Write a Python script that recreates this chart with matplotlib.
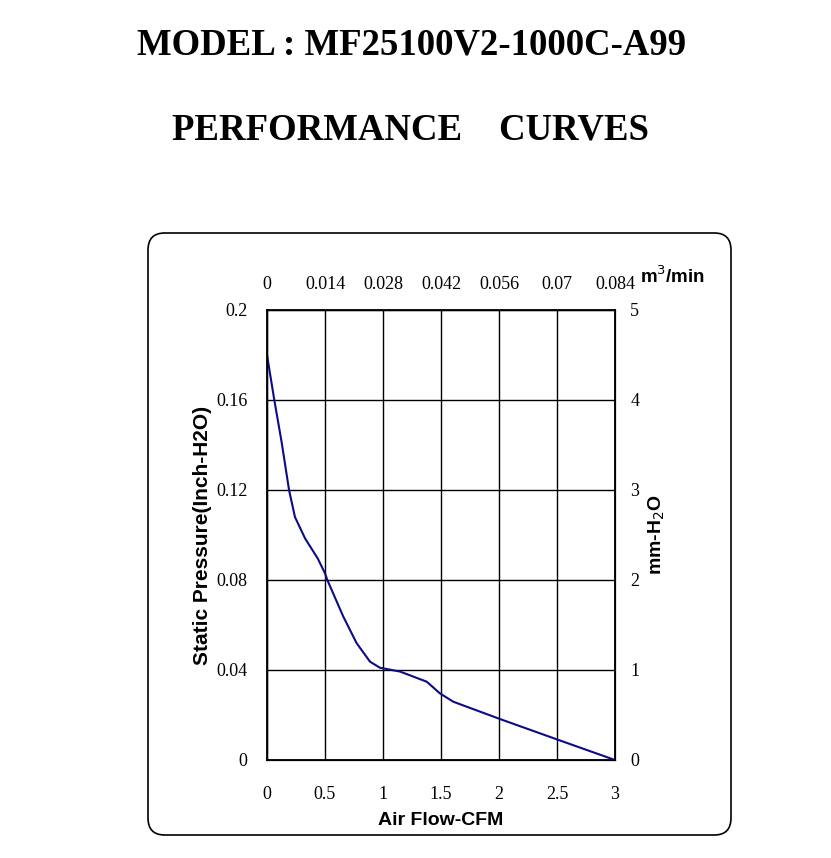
import matplotlib.pyplot as plt
from matplotlib.patches import FancyBboxPatch

# air flow (CFM) vs static pressure (inch H2O)
cfm = [0.0, 0.063, 0.127, 0.19, 0.241, 0.328, 0.437, 0.5, 0.52, 0.658, 0.773,
       0.888, 0.974, 1.147, 1.377, 1.491, 1.606, 2.009, 2.497, 3.0]
pressure = [0.18, 0.16, 0.141, 0.12, 0.108, 0.0985, 0.0896, 0.083, 0.08, 0.0637,
            0.0519, 0.0437, 0.041, 0.0393, 0.0348, 0.0296, 0.0259, 0.0182, 0.0092, 0.0]

x_ticks = [0, 0.5, 1, 1.5, 2, 2.5, 3]
x_labels = ["0", "0.5", "1", "1.5", "2", "2.5", "3"]
top_ticks = [0, 0.014, 0.028, 0.042, 0.056, 0.07, 0.084]
top_labels = ["0", "0.014", "0.028", "0.042", "0.056", "0.07", "0.084"]
y_ticks = [0, 0.04, 0.08, 0.12, 0.16, 0.2]
y_labels = ["0", "0.04", "0.08", "0.12", "0.16", "0.2"]
right_ticks = [0, 1, 2, 3, 4, 5]

serif = "Liberation Serif"
sans = "Liberation Sans"

fig = plt.figure(figsize=(8.31, 8.58), dpi=100)

# rounded frame around the chart
frame = FancyBboxPatch((148 / 831, 1 - 835 / 858), (731 - 148) / 831, (835 - 233) / 858,
                       boxstyle="round,pad=0,rounding_size=0.02",
                       transform=fig.transFigure, fill=False, edgecolor="black", lw=1.2)
fig.patches.append(frame)

fig.text(0.495, 1 - 45 / 858, "MODEL : MF25100V2-1000C-A99", ha="center", va="center",
         fontsize=26.5, fontweight="bold", family=serif)
fig.text(0.494, 1 - 130 / 858, "PERFORMANCE    CURVES", ha="center", va="center",
         fontsize=26.5, fontweight="bold", family=serif)

ax = fig.add_axes([267 / 831, 1 - 760 / 858, (615 - 267) / 831, (760 - 310) / 858])
ax.plot(cfm, pressure, color="#0b0b8a", lw=1.5, zorder=3)
ax.set_xlim(0, 3)
ax.set_ylim(0, 0.2)
ax.set_xticks(x_ticks)
ax.set_xticklabels(x_labels, family=serif, fontsize=13)
ax.set_yticks(y_ticks)
ax.set_yticklabels(y_labels, family=serif, fontsize=13)
ax.tick_params(axis="y", length=0, pad=14)
ax.tick_params(axis="x", length=0, pad=19)
ax.grid(True, color="black", lw=1.0)
for s in ax.spines.values():
    s.set_linewidth(1.3)
ax.set_xlabel("Air Flow-CFM", family=sans, fontweight="bold", fontsize=14, labelpad=6)
ax.set_ylabel("Static Pressure(Inch-H2O)", family=sans, fontweight="bold", fontsize=15,
              labelpad=3)

# right axis in mm H2O
ax_r = ax.twinx()
ax_r.set_ylim(0, 5)
ax_r.set_yticks(right_ticks)
ax_r.set_yticklabels([str(v) for v in right_ticks], family=serif, fontsize=13)
ax_r.tick_params(length=0, pad=11)
ax_r.set_ylabel("mm-H$_2$O", family=sans, fontweight="bold", fontsize=14, labelpad=5)

# top axis in m3/min
ax_t = ax.twiny()
ax_t.set_xlim(0, 0.084)
ax_t.set_xticks(top_ticks)
ax_t.set_xticklabels(top_labels, family=serif, fontsize=13)
ax_t.tick_params(length=0, pad=12)
fig.text(640 / 831, 1 - 276 / 858, "m$^3$/min", ha="left", va="center",
         family=sans, fontweight="bold", fontsize=13.5)

fig.savefig("out.png", dpi=100)
